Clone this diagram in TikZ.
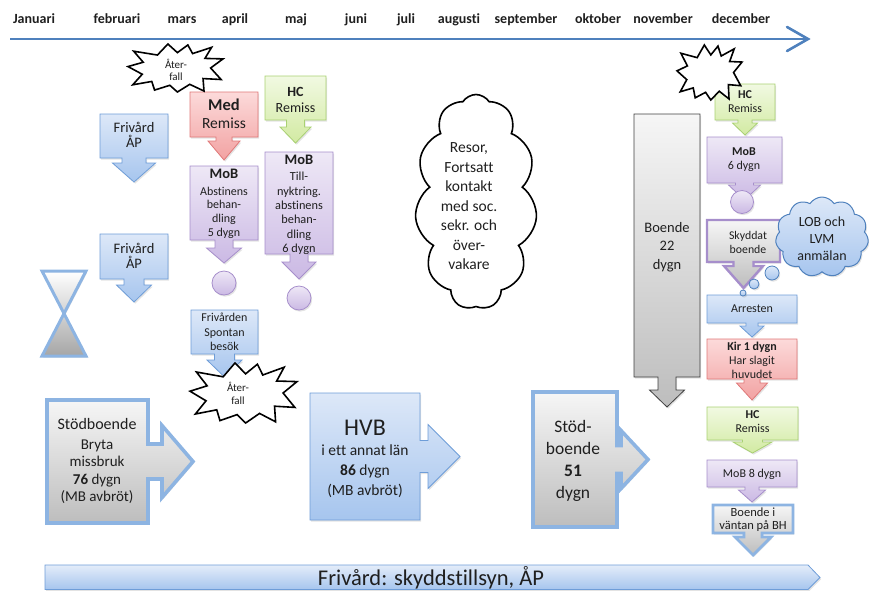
\documentclass[tikz,border=0pt]{standalone}
\usepackage{fontspec}
\setmainfont{Carlito}[Ligatures=NoCommon]
\usetikzlibrary{shapes.symbols,shadows}
\definecolor{tlcol}{HTML}{4F81BD}
\definecolor{bT}{HTML}{DDE8F8}
\definecolor{bB}{HTML}{A6C5EE}
\definecolor{bD}{HTML}{6E9DD8}
\definecolor{rT}{HTML}{FCDADA}
\definecolor{rB}{HTML}{F2A2A2}
\definecolor{rD}{HTML}{E07878}
\definecolor{gT}{HTML}{F1F9E2}
\definecolor{gB}{HTML}{D2EAA2}
\definecolor{gD}{HTML}{A9D172}
\definecolor{pT}{HTML}{EEE8F6}
\definecolor{pB}{HTML}{CBB9E4}
\definecolor{pD}{HTML}{A68ECB}
\definecolor{yT}{HTML}{F6F6F6}
\definecolor{yB}{HTML}{BDBDBD}
\definecolor{lbD}{HTML}{8DB4E2}
\definecolor{txc}{HTML}{1F1F1F}
\newcommand{\myfs}[2]{\fontsize{#1}{#2}\selectfont}
\newcommand{\dcall}[9]{%
  \pgfmathsetmacro\mycx{(#2+#4)/2}%
  \path[#1] (#2,#3) -- (#4,#3) -- (#4,#5) -- ({\mycx+#6},#5) -- ({\mycx+#6},#8)
    -- ({\mycx+#7},#8) -- (\mycx,#9) -- ({\mycx-#7},#8) -- ({\mycx-#6},#8)
    -- ({\mycx-#6},#5) -- (#2,#5) -- cycle;}
\newcommand{\rcall}[9]{%
  \pgfmathsetmacro\mycy{(#3+#5)/2}%
  \path[#1] (#2,#3) -- (#4,#3) -- (#4,{\mycy-#6}) -- (#8,{\mycy-#6}) -- (#8,{\mycy-#7})
    -- (#9,\mycy) -- (#8,{\mycy+#7}) -- (#8,{\mycy+#6}) -- (#4,{\mycy+#6})
    -- (#4,#5) -- (#2,#5) -- cycle;}
\newcommand{\burst}[4]{%
  \begin{scope}[shift={(#1,#2)}, xscale=#3, yscale=#4]
  \path[burststyle] (0.42,0.00) -- (0.52,0.18) -- (0.63,0.02) -- (0.68,0.20) -- (0.88,0.07)
    -- (0.81,0.30) -- (1.00,0.31) -- (0.87,0.50) -- (0.98,0.74) -- (0.79,0.72)
    -- (0.80,0.98) -- (0.65,0.84) -- (0.52,1.00) -- (0.44,0.86) -- (0.28,0.96)
    -- (0.25,0.78) -- (0.05,0.85) -- (0.15,0.63) -- (0.00,0.47) -- (0.16,0.38)
    -- (0.06,0.15) -- (0.31,0.23) -- cycle;
  \end{scope}}
\begin{document}
\begin{tikzpicture}[x=1pt,y=-1pt,
  shd/.style={drop shadow={shadow xshift=1.2pt,shadow yshift=-1.6pt,opacity=0.22}},
  bluebox/.style={shd,top color=bT,bottom color=bB,draw=bD,line width=0.8pt},
  redbox/.style={shd,top color=rT,bottom color=rB,draw=rD,line width=0.8pt},
  greenbox/.style={shd,top color=gT,bottom color=gB,draw=gD,line width=0.8pt},
  purplebox/.style={shd,top color=pT,bottom color=pB,draw=pD,line width=0.8pt},
  graydark/.style={shd,top color=yT,bottom color=yB,draw=black!75,line width=0.8pt},
  graypurple/.style={shd,top color=yT,bottom color=yB,draw=pD,line width=2.4pt},
  grayblue/.style={shd,top color=yT,bottom color=yB,draw=lbD,line width=2.8pt},
  burststyle/.style={fill=white,draw=black,line width=1.6pt,line join=miter},
  txt/.style={align=center,inner sep=0pt,text=txc},
  month/.style={inner sep=0pt,font=\bfseries\myfs{14}{15},text=txc}]
\useasboundingbox (0,0) rectangle (869,590);

% timeline
\coordinate (tl0) at (10,39);
\coordinate (tl1) at (806,39);
\coordinate (tlu) at (787,27);
\coordinate (tlt) at (808,39);
\coordinate (tld) at (787,51);
\draw[tlcol,line width=2.6pt] (tl0) -- (tl1);
\draw[tlcol,line width=2.6pt,line cap=round] (tlu) -- (tlt) -- (tld);
\foreach \m/\x [count=\i] in {Januari/34,februari/117,mars/182,april/235,maj/296,juni/356,juli/406,augusti/459,september/526,oktober/598,november/663,december/741}
  \node[month,anchor=base] (m\i) at (\x,23.5) {\m};

% left column shapes
\dcall{bluebox}{100}{114}{168}{158}{12}{21.5}{163}{182}
\dcall{bluebox}{100}{234}{168}{279}{10}{17.5}{285}{302}
\dcall{redbox}{190}{92}{258}{137}{8}{16}{141}{160}
\dcall{greenbox}{265}{76}{326}{120}{9}{15.5}{127}{143}
\dcall{purplebox}{190}{166}{258}{240}{9}{17.5}{248}{263}
\dcall{purplebox}{265}{152}{333}{254}{9}{17}{262}{279}
\node[circle,purplebox,minimum size=24pt,inner sep=0pt] (c1) at (224,283) {};
\node[circle,purplebox,minimum size=24pt,inner sep=0pt] (c2) at (299,298) {};
\dcall{bluebox}{191}{310}{258}{354}{10}{17.5}{360}{377}

% hourglass
\path[shd,top color=white,bottom color=black!35,draw=lbD,line width=3pt,line join=miter]
  (42,271) -- (86,271) -- (42,356) -- (86,356) -- cycle;

% big right callouts
\rcall{grayblue,line width=3.6pt}{47}{400}{148}{523}{17.5}{36}{162}{193}
\rcall{bluebox}{310}{393}{420}{520}{16}{32}{428}{460}
\rcall{grayblue,line width=3.6pt}{533}{392}{617}{527}{14}{29}{621}{648}

% right column
\dcall{graydark}{634}{114}{700}{377}{9}{17.5}{390}{407}
\dcall{greenbox}{715}{84}{775}{120}{7}{12.5}{123}{135}
\dcall{purplebox}{707}{137}{782}{183}{9}{16}{185}{200}
\node[circle,purplebox,minimum size=23pt,inner sep=0pt] (c3) at (742,202) {};
\dcall{graypurple}{707}{220}{780}{262}{10}{19.5}{266}{288}
\dcall{bluebox}{707}{295}{797}{323}{6}{12}{326}{337}
\dcall{redbox}{707}{339}{797}{379}{8}{15.5}{383}{400}
\dcall{greenbox}{707}{407}{798}{440}{10}{19.5}{442}{453}
\dcall{purplebox}{707}{460}{797}{487}{7}{13.5}{490}{502}
\dcall{grayblue}{713}{505}{793}{533}{9}{18}{537}{555}

% LOB cloud and bubbles
\node[cloud,cloud puffs=11,cloud puff arc=115,aspect=1.15,minimum width=93pt,minimum height=80pt,
      shd,top color=bT,bottom color=bB,draw=tlcol,line width=1pt,inner sep=0pt] (lob) at (822,237) {};
\node[circle,bluebox,draw=tlcol,minimum size=14pt,inner sep=0pt] (b1) at (772,273) {};
\node[circle,bluebox,draw=tlcol,minimum size=10pt,inner sep=0pt] (b2) at (754,284) {};
\node[circle,bluebox,draw=tlcol,minimum size=6pt,inner sep=0pt] (b3) at (743,293) {};

% Resor cloud
\node[cloud,cloud puffs=11,cloud puff arc=115,aspect=0.57,minimum width=122pt,minimum height=215pt,
      fill=white,draw=black,line width=1.6pt,inner sep=0pt] (resor) at (476,202) {};

% bursts
\burst{128}{44}{95}{48}
\burst{190}{363}{107}{60}
\burst{677}{45}{65}{55}

% bottom bar
\path[shd,top color=bT!80!white,bottom color=bB,draw=bD,line width=0.8pt]
  (45,565) -- (808,565) -- (820,577.5) -- (808,589.5) -- (45,589.5) -- cycle;

% texts
\node[txt,font=\myfs{14.5}{14.5}] (friv1) at (134,135) {Frivård\\ÅP};
\node[txt,font=\myfs{14.5}{14.5}] (friv2) at (134,256) {Frivård\\ÅP};
\node[txt,font=\myfs{15.5}{18}] (med) at (224,114) {{\fontsize{16.5}{18}\selectfont\bfseries Med}\\Remiss};
\node[txt,font=\myfs{14}{16}] (hc1) at (295.5,100) {\textbf{HC}\\Remiss};
\node[txt,font=\myfs{12}{13.8}] (mob1) at (224,204) {{\fontsize{14.5}{14}\selectfont\bfseries MoB}\\[2.5pt]Abstinens\\behan-\\dling\\5 dygn};
\node[txt,font=\myfs{12.3}{14.4}] (mob2) at (299,205) {{\fontsize{14.5}{14}\selectfont\bfseries MoB}\\[1.5pt]Till-\\nyktring.\\abstinens\\behan-\\dling\\6 dygn};
\node[txt,font=\myfs{12}{14.5}] (spont) at (224.5,332) {Frivården\\Spontan\\besök};
\node[txt,font=\myfs{11}{12}] (ater1) at (176,69.5) {Åter-\\fall};
\node[txt,font=\myfs{11}{13.5}] (ater2) at (238,393.5) {Åter-\\fall};
\node[txt,font=\myfs{15.5}{19.5}] (resortxt) at (469,206.5) {Resor,\\Fortsatt\\kontakt\\med soc.\\sekr. och\\över-\\vakare};
\node[txt,font=\myfs{14.5}{18.5}] (boende22) at (667,247) {Boende\\22\\dygn};
\node[txt,font=\myfs{12}{14}] (hc2) at (745,102) {\textbf{HC}\\Remiss};
\node[txt,font=\myfs{12}{14}] (mob3) at (744,160) {\textbf{MoB}\\6 dygn};
\node[txt,font=\myfs{11.8}{14}] (skydd) at (748,242) {Skyddat\\boende};
\node[txt,font=\myfs{14}{17}] (lobtxt) at (822,239) {LOB och\\LVM\\anmälan};
\node[txt,font=\myfs{12}{13}] (arr) at (752,309) {Arresten};
\node[txt,font=\myfs{12}{14}] (kir) at (752,360) {{\bfseries Kir 1 dygn}\\Har slagit\\huvudet};
\node[txt,font=\myfs{12}{14}] (hc3) at (752.5,422) {\textbf{HC}\\Remiss};
\node[txt,font=\myfs{12}{13}] (mob4) at (752,474) {MoB 8 dygn};
\node[txt,font=\myfs{12.5}{13}] (bvant) at (753,520) {Boende i\\väntan på BH};
\node[txt,font=\myfs{15}{17.5}] (stod1) at (97,461) {{\fontsize{16}{17.5}\selectfont Stödboende}\\[2pt]Bryta\\missbruk\\\textbf{76} dygn\\(MB avbröt)};
\node[txt,font=\myfs{15.5}{20}] (hvb) at (365,459) {{\fontsize{24}{24}\selectfont HVB}\\[0pt]i ett annat län\\\textbf{86} dygn\\(MB avbröt)};
\node[txt,font=\myfs{17.5}{22}] (stod2) at (573,461) {Stöd-\\boende\\\textbf{51}\\dygn};
\node[txt,font=\myfs{22.5}{24}] (frivbar) at (431,578) {Frivård: skyddstillsyn, ÅP};
\end{tikzpicture}
\end{document}
